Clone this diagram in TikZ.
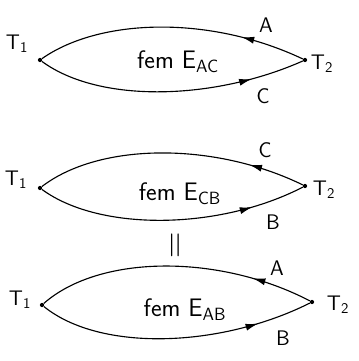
\documentclass[tikz,border=0pt]{standalone}
\usepackage{tikz}
\usetikzlibrary{arrows.meta,positioning,decorations.markings}

\tikzset{
  junction/.style={circle,fill=black,inner sep=0pt,minimum size=3pt},
  lbl/.style={font=\sffamily\fontsize{15}{17}\selectfont,inner sep=1pt},
  fem/.style={font=\sffamily\fontsize{18}{20}\selectfont},
  arcback/.style={thick,postaction={decorate},decoration={markings,
    mark=at position #1 with {\arrowreversed{Latex[length=9pt,width=5pt]}}}},
  arcfwd/.style={thick,postaction={decorate},decoration={markings,
    mark=at position #1 with {\arrow{Latex[length=9pt,width=5pt]}}}}
}

\begin{document}
\begin{tikzpicture}[x=0.025cm,y=-0.025cm]
  \useasboundingbox (0,0) rectangle (358,361);

  % first couple: A and C
  \node[junction] (t1ac) at (40,60) {};
  \node[junction] (t2ac) at (305,60) {};
  \node[lbl] (l1ac) at (17,44) {T\textsubscript{1}};
  \node[lbl] (l2ac) at (322,64) {T\textsubscript{2}};
  \draw[arcback=0.76] (t1ac) .. controls (100,18) and (210,15) .. (t2ac);
  \draw[arcfwd=0.8] (t1ac) .. controls (100,104) and (215,100) .. (t2ac);
  \node[lbl] (wa1) at (266,25) {A};
  \node[lbl] (wc1) at (263,96) {C};
  \node[fem] (eac) at (178,62) {fem E\textsubscript{AC}};

  % second couple: C and B
  \node[junction] (t1cb) at (40,188) {};
  \node[junction] (t2cb) at (305,186) {};
  \node[lbl] (l1cb) at (16,180) {T\textsubscript{1}};
  \node[lbl] (l2cb) at (324,190) {T\textsubscript{2}};
  \draw[arcback=0.79] (t1cb) .. controls (100,142) and (215,142) .. (t2cb);
  \draw[arcfwd=0.8] (t1cb) .. controls (100,232) and (220,230) .. (t2cb);
  \node[lbl] (wc2) at (265,150) {C};
  \node[lbl] (wb2) at (273,222) {B};
  \node[fem] (ecb) at (180,194) {fem E\textsubscript{CB}};

  \node[font=\fontsize{26}{26}\selectfont,rotate=90] (eq) at (178,245) {=};

  % resulting couple: A and B
  \node[junction] (t1ab) at (42,305) {};
  \node[junction] (t2ab) at (312,302) {};
  \node[lbl] (l1ab) at (20,300) {T\textsubscript{1}};
  \node[lbl] (l2ab) at (338,305) {T\textsubscript{2}};
  \draw[arcback=0.78] (t1ab) .. controls (100,254) and (220,254) .. (t2ab);
  \draw[arcfwd=0.8] (t1ab) .. controls (100,352) and (220,348) .. (t2ab);
  \node[lbl] (wa3) at (277,268) {A};
  \node[lbl] (wb3) at (283,338) {B};
  \node[fem] (eab) at (185,310) {fem E\textsubscript{AB}};
\end{tikzpicture}
\end{document}
